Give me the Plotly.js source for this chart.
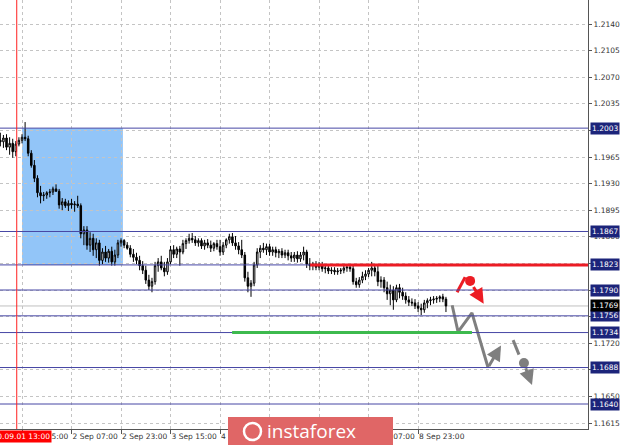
<!DOCTYPE html>
<html><head><meta charset="utf-8">
<script src="https://cdn.plot.ly/plotly-3.0.1.min.js"></script>
<style>html,body{margin:0;padding:0;background:#fff}#chart{width:620px;height:445px}</style>
</head><body><div id="chart"></div>
<script>
// Hourly EURUSD bars, first bar = 1 Sep 08:00 (index -7), index 0 = 1 Sep 15:00
const firstBarIndex = -7;
const opens = [1.1987,1.1985,1.1990,1.1978,1.1983,1.1972,1.1982,1.1987,1.1991,1.1989,1.1970,1.1954,1.1937,1.1918,1.1914,1.1915,1.1918,1.1919,1.1923,1.1920,1.1902,1.1906,1.1901,1.1904,1.1902,1.1903,1.1901,1.1864,1.1869,1.1849,1.1858,1.1843,1.1852,1.1829,1.1840,1.1832,1.1841,1.1827,1.1836,1.1852,1.1855,1.1849,1.1845,1.1837,1.1833,1.1829,1.1822,1.1816,1.1803,1.1795,1.1801,1.1822,1.1827,1.1819,1.1814,1.1827,1.1843,1.1837,1.1844,1.1840,1.1851,1.1855,1.1858,1.1856,1.1852,1.1855,1.1848,1.1852,1.1849,1.1845,1.1851,1.1847,1.1840,1.1849,1.1856,1.1860,1.1852,1.1848,1.1843,1.1836,1.1806,1.1795,1.1799,1.1823,1.1840,1.1845,1.1843,1.1847,1.1840,1.1843,1.1839,1.1841,1.1836,1.1839,1.1835,1.1832,1.1836,1.1831,1.1836,1.1840,1.1824,1.1822,1.1824,1.1820,1.1823,1.1818,1.1819,1.1815,1.1816,1.1814,1.1815,1.1816,1.1819,1.1820,1.1818,1.1801,1.1797,1.1803,1.1808,1.1811,1.1816,1.1819,1.1814,1.1801,1.1803,1.1793,1.1785,1.1790,1.1777,1.1793,1.1787,1.1782,1.1777,1.1774,1.1773,1.1769,1.1766,1.1764,1.1773,1.1776,1.1777,1.1778,1.1779,1.1781,1.1778];
const highs = [1.1997,1.1994,1.1995,1.1991,1.1989,1.1986,1.1991,1.1995,1.2011,1.1993,1.1974,1.1961,1.1941,1.1927,1.1919,1.1920,1.1923,1.1926,1.1929,1.1923,1.1911,1.1910,1.1908,1.1910,1.1907,1.1914,1.1904,1.1874,1.1874,1.1866,1.1864,1.1858,1.1856,1.1845,1.1848,1.1844,1.1847,1.1843,1.1856,1.1858,1.1857,1.1853,1.1849,1.1844,1.1839,1.1835,1.1828,1.1822,1.1810,1.1806,1.1827,1.1832,1.1835,1.1827,1.1832,1.1848,1.1849,1.1847,1.1848,1.1856,1.1858,1.1864,1.1865,1.1861,1.1858,1.1858,1.1856,1.1857,1.1855,1.1853,1.1856,1.1856,1.1853,1.1858,1.1864,1.1865,1.1861,1.1853,1.1856,1.1840,1.1814,1.1803,1.1827,1.1845,1.1849,1.1852,1.1851,1.1851,1.1847,1.1847,1.1844,1.1845,1.1843,1.1843,1.1840,1.1840,1.1841,1.1840,1.1847,1.1843,1.1832,1.1827,1.1828,1.1827,1.1827,1.1823,1.1823,1.1820,1.1820,1.1819,1.1819,1.1822,1.1824,1.1824,1.1823,1.1806,1.1807,1.1814,1.1816,1.1819,1.1827,1.1824,1.1823,1.1808,1.1807,1.1801,1.1797,1.1795,1.1797,1.1798,1.1793,1.1787,1.1782,1.1779,1.1778,1.1774,1.1772,1.1777,1.1779,1.1781,1.1782,1.1782,1.1783,1.1785,1.1781];
const lows = [1.1979,1.1977,1.1974,1.1968,1.1964,1.1966,1.1979,1.1983,1.1986,1.1966,1.1951,1.1932,1.1912,1.1904,1.1907,1.1910,1.1912,1.1915,1.1919,1.1897,1.1895,1.1898,1.1894,1.1897,1.1893,1.1898,1.1858,1.1849,1.1843,1.1840,1.1835,1.1832,1.1822,1.1824,1.1827,1.1826,1.1822,1.1822,1.1832,1.1847,1.1845,1.1843,1.1833,1.1827,1.1824,1.1816,1.1811,1.1798,1.1790,1.1787,1.1797,1.1814,1.1816,1.1808,1.1810,1.1824,1.1832,1.1832,1.1822,1.1837,1.1844,1.1851,1.1852,1.1848,1.1847,1.1844,1.1843,1.1845,1.1840,1.1841,1.1843,1.1835,1.1836,1.1845,1.1851,1.1848,1.1843,1.1837,1.1832,1.1801,1.1787,1.1781,1.1795,1.1819,1.1832,1.1839,1.1836,1.1835,1.1835,1.1833,1.1832,1.1832,1.1832,1.1829,1.1827,1.1827,1.1826,1.1827,1.1829,1.1819,1.1816,1.1816,1.1816,1.1816,1.1814,1.1812,1.1811,1.1811,1.1810,1.1810,1.1811,1.1812,1.1814,1.1814,1.1797,1.1793,1.1793,1.1799,1.1803,1.1807,1.1808,1.1808,1.1795,1.1793,1.1787,1.1777,1.1770,1.1764,1.1774,1.1779,1.1777,1.1772,1.1769,1.1769,1.1765,1.1761,1.1757,1.1760,1.1766,1.1770,1.1772,1.1773,1.1774,1.1774,1.1761];
const closes = [1.1985,1.1990,1.1978,1.1983,1.1972,1.1982,1.1987,1.1991,1.1989,1.1970,1.1954,1.1937,1.1918,1.1914,1.1915,1.1918,1.1919,1.1923,1.1920,1.1902,1.1906,1.1901,1.1904,1.1902,1.1903,1.1901,1.1864,1.1869,1.1849,1.1858,1.1843,1.1852,1.1829,1.1840,1.1832,1.1841,1.1827,1.1836,1.1852,1.1855,1.1849,1.1845,1.1837,1.1833,1.1829,1.1822,1.1816,1.1803,1.1795,1.1801,1.1822,1.1827,1.1819,1.1814,1.1827,1.1843,1.1837,1.1844,1.1840,1.1851,1.1855,1.1858,1.1856,1.1852,1.1855,1.1848,1.1852,1.1849,1.1845,1.1851,1.1847,1.1840,1.1849,1.1856,1.1860,1.1852,1.1848,1.1843,1.1836,1.1806,1.1795,1.1799,1.1823,1.1840,1.1845,1.1843,1.1847,1.1840,1.1843,1.1839,1.1841,1.1836,1.1839,1.1835,1.1832,1.1836,1.1831,1.1836,1.1840,1.1824,1.1822,1.1824,1.1820,1.1823,1.1818,1.1819,1.1815,1.1816,1.1814,1.1815,1.1816,1.1819,1.1820,1.1818,1.1801,1.1797,1.1803,1.1808,1.1811,1.1816,1.1819,1.1814,1.1801,1.1803,1.1793,1.1785,1.1790,1.1777,1.1793,1.1787,1.1782,1.1777,1.1774,1.1773,1.1769,1.1766,1.1764,1.1773,1.1776,1.1777,1.1778,1.1779,1.1781,1.1778,1.1769];

const xTickIdx = [0,16,32,48,64,80,96,112,128];
const xTickText = ["1 Sep 15:00","2 Sep 07:00","2 Sep 23:00","3 Sep 15:00","4 Sep 07:00","4 Sep 23:00","7 Sep 15:00","8 Sep 07:00","8 Sep 23:00"];
const yTicks = [1.1615,1.1650,1.1685,1.1720,1.1755,1.1790,1.1825,1.1860,1.1895,1.1930,1.1965,1.2000,1.2035,1.2070,1.2105,1.2140];
// tick labels hidden behind level boxes in the original are left blank
const yTickText = ["1.1615","1.1650","","1.1720","","","","1.1860","1.1895","1.1930","1.1965","","1.2035","1.2070","1.2105","1.2140"];
const levels = [1.2003,1.1867,1.1823,1.1790,1.1756,1.1734,1.1688,1.1640];
const currentPrice = 1.1769;
const markerBar = -1.7;            // 2020.09.01 13:00
const markerLabel = "2020.09.01 13:00";
const zoneBars = [0, 32.6];
const zonePrices = [1.1823, 1.2003];
const redLevelBars = [93.1, 183];
const redLevelPrice = 1.1823;
const greenLevelBars = [67.9, 145.4];
const greenLevelPrice = 1.1734;
// forecast sketches
const redUpX = [140.6, 143.2], redUpY = [1.1787, 1.1807];
const redDotX = [144.8], redDotY = [1.1802];
const redArrowFrom = [145.6, 1.1796], redArrowTo = [149.2, 1.1772];
const grayPathX = [139.0, 140.9, 145.4, 150.6], grayPathY = [1.1770, 1.1735, 1.1760, 1.1688];
const grayArrow1To = [154.8, 1.1717];
const graySegX = [158.7, 160.6], graySegY = [1.1724, 1.1705];
const grayDotX = [162.2], grayDotY = [1.1694];
const grayArrow2From = [162.6, 1.1689], grayArrow2To = [164.8, 1.1665];

const xIdx = opens.map((_, k) => k + firstBarIndex);
const navy = '#4646a4', boxNavy = '#1c247a', red = '#ec1c24', gray = '#7f7f7f';

const traces = [
  {type:'candlestick', x:xIdx, open:opens, high:highs, low:lows, close:closes,
   increasing:{line:{color:'#000',width:1}, fillcolor:'#ffffff'},
   decreasing:{line:{color:'#000',width:1}, fillcolor:'#000000'},
   whiskerwidth:0, hoverinfo:'skip', showlegend:false},
  {type:'scatter', mode:'lines', x:redUpX, y:redUpY, line:{color:red,width:3}, hoverinfo:'skip', showlegend:false},
  {type:'scatter', mode:'markers', x:redDotX, y:redDotY, marker:{color:red,size:10}, hoverinfo:'skip', showlegend:false},
  {type:'scatter', mode:'lines', x:grayPathX, y:grayPathY, line:{color:gray,width:3}, hoverinfo:'skip', showlegend:false},
  {type:'scatter', mode:'lines', x:graySegX, y:graySegY, line:{color:gray,width:3}, hoverinfo:'skip', showlegend:false},
  {type:'scatter', mode:'markers', x:grayDotX, y:grayDotY, marker:{color:gray,size:10}, hoverinfo:'skip', showlegend:false}
];

const shapes = [
  {type:'rect', xref:'x', yref:'y', x0:zoneBars[0], x1:zoneBars[1], y0:zonePrices[0], y1:zonePrices[1], fillcolor:'#92c5f8', line:{width:0}, layer:'below'},
  {type:'line', xref:'paper', yref:'y', x0:0, x1:1, y0:currentPrice, y1:currentPrice, line:{color:'#c0c0c0',width:1}, layer:'below'}
];
levels.forEach(v => shapes.push({type:'line', xref:'paper', yref:'y', x0:0, x1:1, y0:v, y1:v, line:{color:navy,width:1}}));
shapes.push({type:'line', xref:'x', yref:'y', x0:redLevelBars[0], x1:redLevelBars[1], y0:redLevelPrice, y1:redLevelPrice, line:{color:red,width:3}});
shapes.push({type:'line', xref:'x', yref:'y', x0:greenLevelBars[0], x1:greenLevelBars[1], y0:greenLevelPrice, y1:greenLevelPrice, line:{color:'#3dba4e',width:3}});
shapes.push({type:'line', xref:'x', yref:'paper', x0:markerBar, x1:markerBar, y0:0, y1:1, line:{color:'#ff2020',width:1}});
// logo block
shapes.push({type:'rect', xref:'paper', yref:'paper', x0:228/588, x1:393/588, y0:(429-446)/429, y1:(429-417)/429, fillcolor:'#e06666', line:{width:0}, layer:'above'});
shapes.push({type:'circle', xref:'paper', yref:'paper', x0:244/588, x1:261/588, y0:(429-440)/429, y1:(429-423)/429, line:{color:'#ffffff',width:2.5}, layer:'above'});

const annotations = [];
levels.forEach(v => annotations.push({xref:'paper', yref:'y', x:1, y:v, xanchor:'left', xshift:2, text:v.toFixed(4), showarrow:false, bgcolor:boxNavy, font:{family:'DejaVu Sans', size:7.5, color:'#fff'}, borderpad:1}));
annotations.push({xref:'paper', yref:'y', x:1, y:currentPrice, xanchor:'left', xshift:2, text:currentPrice.toFixed(4), showarrow:false, bgcolor:'#000', font:{family:'DejaVu Sans', size:7.5, color:'#fff'}, borderpad:1});
annotations.push({xref:'x', yref:'paper', x:markerBar, y:0, yanchor:'top', yshift:-1, text:markerLabel, showarrow:false, bgcolor:'#ff0000', font:{family:'DejaVu Sans', size:7.5, color:'#fff'}, borderpad:1});
annotations.push({xref:'x', yref:'y', axref:'x', ayref:'y', x:redArrowTo[0], y:redArrowTo[1], ax:redArrowFrom[0], ay:redArrowFrom[1], showarrow:true, arrowhead:2, arrowsize:1, arrowwidth:3, arrowcolor:red, text:''});
annotations.push({xref:'x', yref:'y', axref:'x', ayref:'y', x:grayArrow1To[0], y:grayArrow1To[1], ax:grayPathX[3], ay:grayPathY[3], showarrow:true, arrowhead:2, arrowsize:1, arrowwidth:3, arrowcolor:gray, text:''});
annotations.push({xref:'x', yref:'y', axref:'x', ayref:'y', x:grayArrow2To[0], y:grayArrow2To[1], ax:grayArrow2From[0], ay:grayArrow2From[1], showarrow:true, arrowhead:2, arrowsize:1, arrowwidth:3, arrowcolor:gray, text:''});
annotations.push({xref:'paper', yref:'paper', x:311/588, y:(429-431)/429, text:'instaforex', showarrow:false, font:{family:'Open Sans', size:19, color:'#ffffff'}, xanchor:'center', yanchor:'middle'});

const layout = {
  width:620, height:445, margin:{l:0, r:32, t:0, b:16},
  paper_bgcolor:'#fff', plot_bgcolor:'#fff', showlegend:false,
  xaxis:{range:[-7.11, 182.9], tickvals:xTickIdx, ticktext:xTickText, tickangle:0, ticks:'outside', ticklen:4, tickcolor:'#555',
         showline:true, linecolor:'#555', linewidth:1, showgrid:true, gridcolor:'#c4c4c4', griddash:'dot', gridwidth:1,
         zeroline:false, ticklabelposition:'outside right', tickfont:{family:'DejaVu Sans', size:7.5, color:'#333'},
         rangeslider:{visible:false}, fixedrange:true, automargin:false},
  yaxis:{side:'right', range:[1.16071, 1.21716], tickvals:yTicks, ticktext:yTickText, ticks:'outside', ticklen:3, tickcolor:'#555',
         showline:true, linecolor:'#555', linewidth:1, showgrid:true, gridcolor:'#c4c4c4', griddash:'dot', gridwidth:1,
         zeroline:false, tickfont:{family:'DejaVu Sans', size:7.5, color:'#333'}, fixedrange:true, automargin:false},
  shapes:shapes, annotations:annotations
};
Plotly.newPlot('chart', traces, layout, {staticPlot:true, displayModeBar:false});
</script></body></html>
